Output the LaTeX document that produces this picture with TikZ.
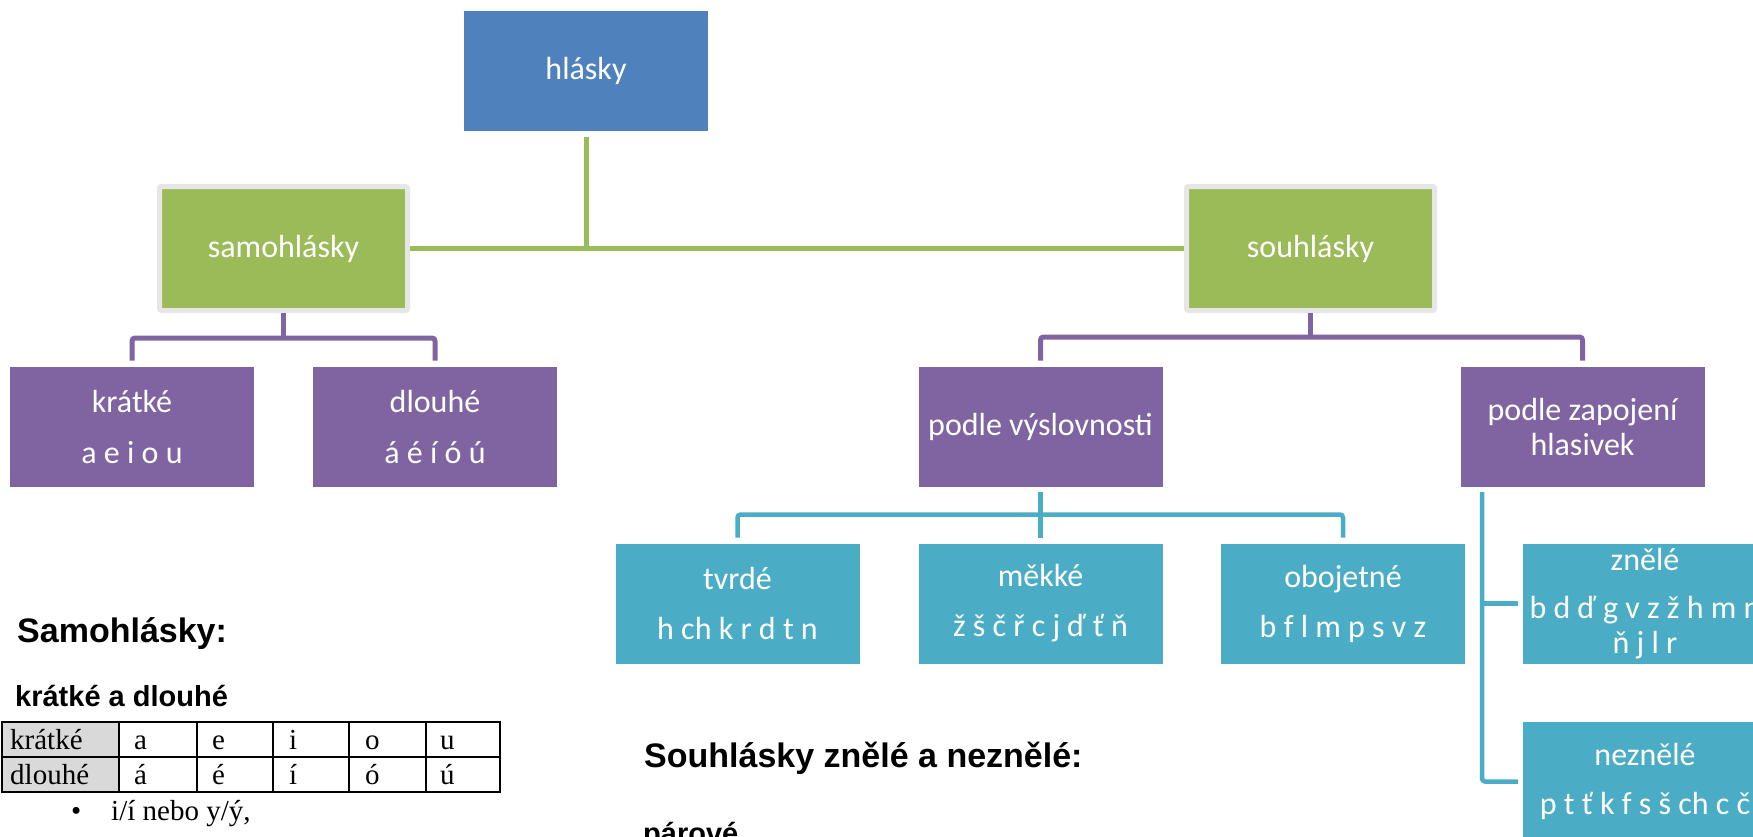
\documentclass[tikz,border=0pt]{standalone}
\usepackage{fontspec}
\setmainfont{Carlito}
\newfontfamily\arialfont{Liberation Sans}
\newfontfamily\timesfont{Liberation Serif}
\definecolor{cblue}{HTML}{4F81BD}
\definecolor{cgreen}{HTML}{9BBB59}
\definecolor{cpurple}{HTML}{8064A2}
\definecolor{ccyan}{HTML}{4BACC6}
\definecolor{cborder}{HTML}{E6E6E6}
\definecolor{cgray}{HTML}{D9D9D9}
\begin{document}
\begin{tikzpicture}[x=1pt,y=-1pt,
  box/.style={minimum width=244pt,minimum height=120pt,inner sep=0pt,outer sep=0pt,
    text=white,align=center,font=\fontsize{32}{35}\selectfont},
  bluebox/.style={box,fill=cblue},
  greenbox/.style={box,fill=cgreen,draw=cborder,line width=5pt,rounded corners=2pt,
    minimum width=248pt,minimum height=124pt,outer sep=2.5pt},
  purplebox/.style={box,fill=cpurple},
  cyanbox/.style={box,fill=ccyan},
  gline/.style={draw=cgreen,line width=5pt},
  pline/.style={draw=cpurple,line width=5pt,rounded corners=3pt},
  cline/.style={draw=ccyan,line width=4.5pt,rounded corners=3pt},
  htext/.style={anchor=base west,inner sep=0pt,font=\arialfont\bfseries\fontsize{34}{40}\selectfont},
  stext/.style={anchor=base west,inner sep=0pt,font=\arialfont\bfseries\fontsize{29}{34}\selectfont},
  ttext/.style={anchor=base west,inner sep=0pt,font=\timesfont\fontsize{29}{34}\selectfont},
  tgrid/.style={draw=black,line width=2pt}
]
\useasboundingbox (0,0) rectangle (1753,836);

% boxes
\node[bluebox] (hl) at (586,71) {hlásky};
\node[greenbox] (sam) at (283.5,248.5) {samohlásky};
\node[greenbox] (sou) at (1310.5,248.5) {souhlásky};
\node[purplebox] (kr) at (132,426.5) {krátké\\[16pt]a e i o u};
\node[purplebox] (dl) at (435,426.5) {dlouhé\\[16pt]á é í ó ú};
\node[purplebox] (pv) at (1040.5,426.5) {podle výslovnosti};
\node[purplebox] (pz) at (1582.5,426.5) {podle zapojení\\hlasivek};
\node[cyanbox] (tv) at (737.5,603.5) {tvrdé\\[15pt]h ch k r d t n};
\node[cyanbox] (me) at (1040.5,603.5) {měkké\\[15pt]ž š č ř c j ď ť ň};
\node[cyanbox] (ob) at (1343,603.5) {obojetné\\[15pt]b f l m p s v z};
\node[cyanbox] (zn) at (1645,603.5) {znělé\\[13pt]b d ď g v z ž h m n\\ň j l r};
\node[cyanbox] (nz) at (1645,781.5) {neznělé\\[14pt]p t ť k f s š ch c č};

% green connectors
\draw[gline] ([yshift=-6pt]hl.south) -- (hl.south |- sam.east);
\draw[gline] (sam.east) -- (sou.west);

% purple connectors
\coordinate (pj1) at ([yshift=-25pt]sam.south);
\draw[pline] (sam.south) -- (pj1);
\draw[pline] ([yshift=6pt]kr.north) |- (pj1) -| ([yshift=6pt]dl.north);
\coordinate (pj2) at ([yshift=-24pt]sou.south);
\draw[pline] (sou.south) -- (pj2);
\draw[pline] ([yshift=6pt]pv.north) |- (pj2) -| ([yshift=6pt]pz.north);

% cyan connectors
\coordinate (cj) at ([yshift=-28pt]pv.south);
\draw[cline] ([yshift=-5.5pt]pv.south) -- ([yshift=6pt]me.north);
\draw[cline] ([yshift=6pt]tv.north) |- (cj) -| ([yshift=6pt]ob.north);
\coordinate (rtop) at ([xshift=-100.5pt,yshift=-5.5pt]pz.south);
\draw[cline] (rtop) |- ([xshift=-5pt]nz.west);
\draw[cline] (rtop |- zn.west) -- ([xshift=-5pt]zn.west);

% left text
\node[htext] (t1) at (17,642) {Samohlásky:};
\node[stext] (t2) at (15,706) {krátké a dlouhé};
\fill[cgray] (2,722) rectangle (119,792);
\draw[tgrid] (2,722) rectangle (500,792);
\draw[tgrid] (2,757) -- (500,757);
\foreach \cx in {119,197,273,349,426} {\draw[tgrid] (\cx,722) -- (\cx,792);}
\node[ttext] (c11) at (10,749) {krátké};
\node[ttext] (c12) at (134,749) {a};
\node[ttext] (c13) at (212,749) {e};
\node[ttext] (c14) at (289,749) {i};
\node[ttext] (c15) at (365,749) {o};
\node[ttext] (c16) at (440,749) {u};
\node[ttext] (c21) at (10,784) {dlouhé};
\node[ttext] (c22) at (134,784) {á};
\node[ttext] (c23) at (212,784) {é};
\node[ttext] (c24) at (289,784) {í};
\node[ttext] (c25) at (365,784) {ó};
\node[ttext] (c26) at (440,784) {ú};
\node[ttext] (bul) at (71,820) {•};
\node[ttext] (bt) at (111,820) {i/í nebo y/ý,};

% right text
\node[htext] (t3) at (644,767) {Souhlásky znělé a neznělé:};
\node[stext] (t4) at (643,843) {párové};
\end{tikzpicture}
\end{document}
